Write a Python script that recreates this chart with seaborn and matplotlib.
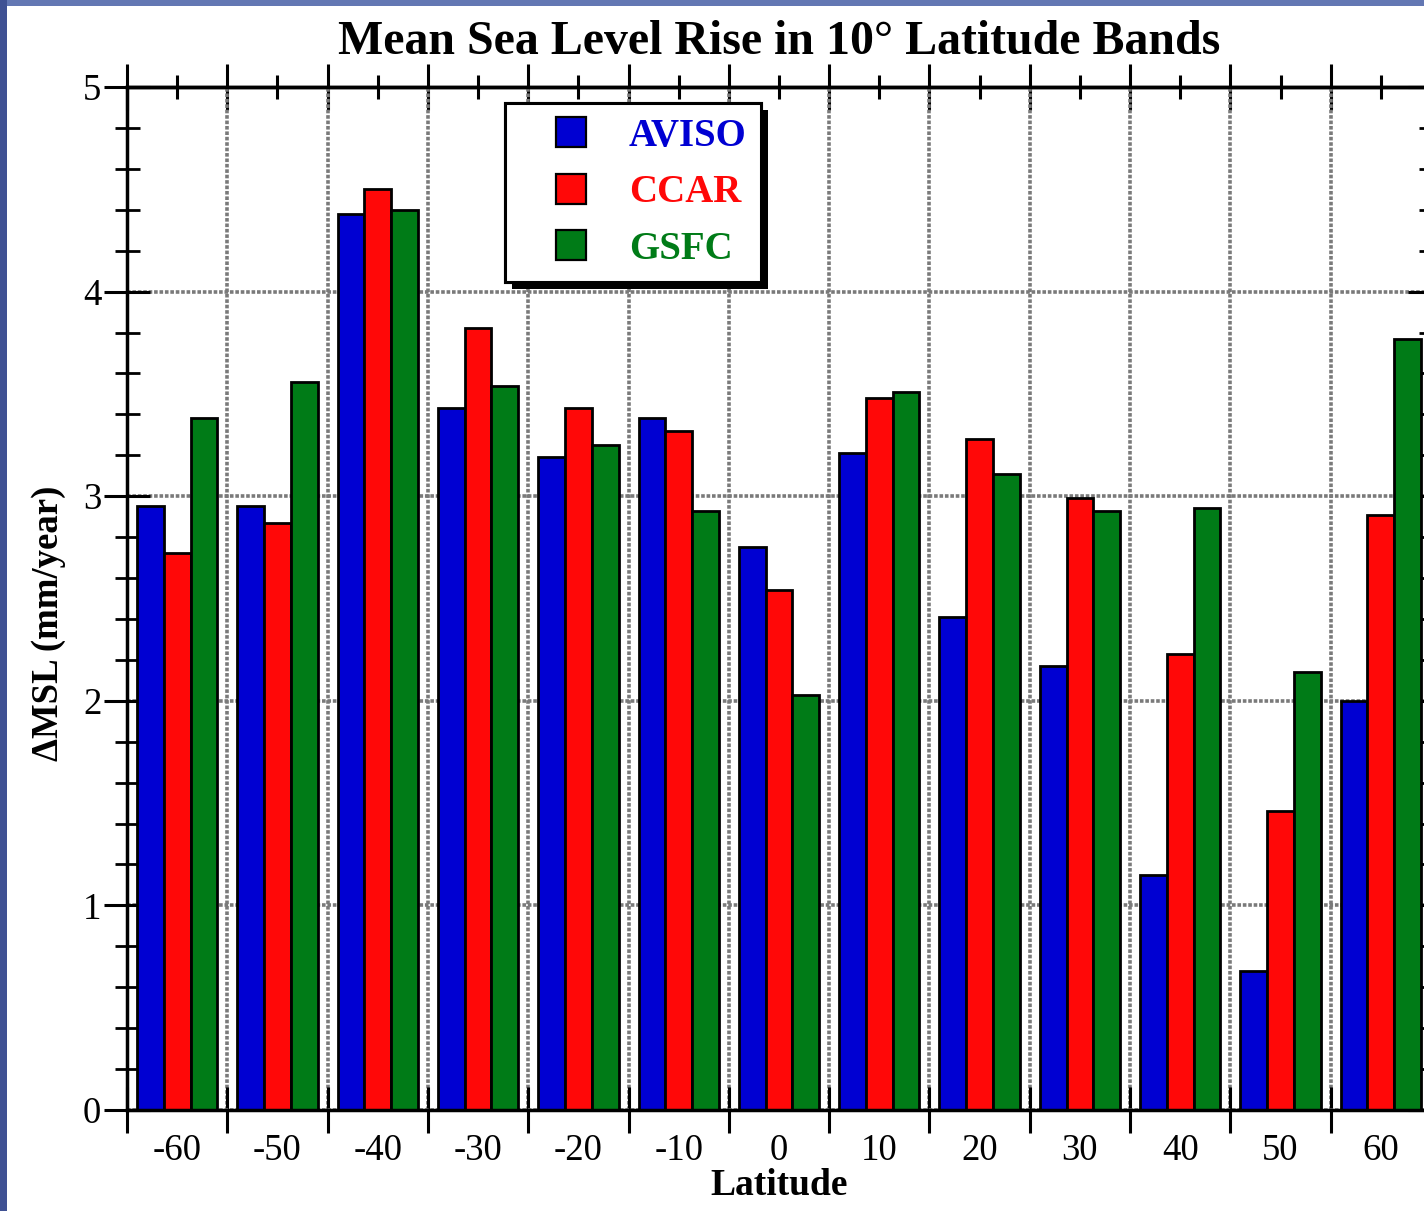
import numpy as np
import pandas as pd
import matplotlib
matplotlib.use("Agg")
import matplotlib.pyplot as plt
import matplotlib.patheffects as pe
from matplotlib.lines import Line2D
from matplotlib.patches import Rectangle
import seaborn as sns

# Latitude band centres (degrees) and mean sea level trend per product (mm/year)
latitudes = [-60, -50, -40, -30, -20, -10, 0, 10, 20, 30, 40, 50, 60]
aviso = [2.95, 2.95, 4.38, 3.43, 3.19, 3.38, 2.75, 3.21, 2.41, 2.17, 1.15, 0.68, 2.00]
ccar = [2.72, 2.87, 4.50, 3.82, 3.43, 3.32, 2.54, 3.48, 3.28, 2.99, 2.23, 1.46, 2.91]
gsfc = [3.38, 3.56, 4.40, 3.54, 3.25, 2.93, 2.03, 3.51, 3.11, 2.93, 2.94, 2.14, 3.77]
sources = ["AVISO", "CCAR", "GSFC"]
colors = {"AVISO": "#0000d2", "CCAR": "#ff0808", "GSFC": "#007b17"}

df = pd.DataFrame({
    "lat": latitudes * 3,
    "msl": aviso + ccar + gsfc,
    "src": [s for s in sources for _ in latitudes],
})

sns.set_theme(style="white")
plt.rcParams["font.family"] = ["Liberation Serif", "DejaVu Serif"]
plt.rcParams.update({"text.color": "black", "axes.labelcolor": "black",
                     "xtick.color": "black", "ytick.color": "black"})

W, H = 1424, 1211
fig = plt.figure(figsize=(W / 100, H / 100), dpi=100)
fig.patch.set_facecolor("white")
# blue slide frame along the top and left edges
fig.add_artist(Rectangle((0, (H - 6) / H), 1, 6 / H, transform=fig.transFigure,
                         facecolor="#6377b3", edgecolor="none", zorder=-5))
fig.add_artist(Rectangle((0, 0), 7 / W, 1, transform=fig.transFigure,
                         facecolor="#3f5193", edgecolor="none", zorder=-5))

ax = fig.add_axes([127 / W, 101 / H, 1304 / W, 1023 / H])
ax.set_facecolor("white")

sns.barplot(data=df, x="lat", y="msl", hue="src", native_scale=True,
            palette=colors, hue_order=sources, saturation=1, width=0.8,
            edgecolor="black", linewidth=2.0, legend=False, ax=ax, zorder=2)

ax.set_xlim(-65, 65)
ax.set_ylim(0, 5)

# ticks: band edges as major (gridlines), band centres labelled
edges = np.arange(-65, 66, 10)
ax.set_xticks(edges)
ax.set_xticklabels([""] * len(edges))
ax.set_xticks(latitudes, [str(v) for v in latitudes], minor=True)
ax.set_yticks(np.arange(0, 6, 1))
ax.set_yticks(np.arange(0, 5.01, 0.2), minor=True)

ax.tick_params(axis="x", which="major", direction="inout", length=33, width=2.2,
               bottom=True, top=False, color="black")
ax.tick_params(axis="x", which="minor", direction="in", length=8, width=2.2,
               bottom=True, top=False, labelsize=26.5, pad=17, labelcolor="black")
ax.tick_params(axis="y", which="major", direction="inout", length=33, width=2.2,
               left=True, right=True, labelsize=26.5, pad=2, labelcolor="black")
ax.tick_params(axis="y", which="minor", direction="inout", length=18, width=2.0,
               left=True, right=True)

top = ax.secondary_xaxis("top")
top.set_xticks(edges)
top.set_xticklabels([""] * len(edges))
top.set_xticks(latitudes, [""] * len(latitudes), minor=True)
top.tick_params(which="major", direction="inout", length=33, width=2.2, color="black")
top.tick_params(which="minor", direction="inout", length=17, width=2.2, color="black")
top.spines["top"].set_linewidth(2.5)
top.spines["top"].set_color("black")

for s in ax.spines.values():
    s.set_color("black")
    s.set_linewidth(2.5)
    s.set_zorder(5)

ax.set_axisbelow(True)
ax.grid(True, which="major", color="#7a7a7a", linestyle=(0, (1, 0.5)), linewidth=2.6)

ax.set_title("Mean Sea Level Rise in 10° Latitude Bands", fontsize=34.5,
             fontweight="bold", color="black", pad=24)
ax.set_xlabel("Latitude", fontsize=27, fontweight="bold", labelpad=0)
ax.set_ylabel("ΔMSL (mm/year)", fontsize=26.5, fontweight="bold")
ax.yaxis.set_label_coords(-0.047, 0.476)

handles = [Line2D([], [], linestyle="none", marker="s", markersize=21.5,
                  markerfacecolor=colors[s], markeredgecolor="black",
                  markeredgewidth=1.6) for s in sources]
leg = ax.legend(handles, sources, loc="upper left", bbox_to_anchor=(378 / 1304, 1 - 16 / 1023),
                prop={"weight": "bold", "size": 28},
                labelcolor=[colors[s] for s in sources], frameon=True, fancybox=False,
                borderpad=0.38, handlelength=2.65, handletextpad=0.15, labelspacing=0.5,
                borderaxespad=0)
frame = leg.get_frame()
frame.set_edgecolor("black")
frame.set_linewidth(2.2)
frame.set_facecolor("white")
frame.set_alpha(1)
frame.set_path_effects([pe.withSimplePatchShadow(offset=(4.8, -4.8), shadow_rgbFace="black",
                                                 alpha=1.0), pe.Normal()])
leg.set_zorder(10)

fig.savefig("out.png", dpi=100, facecolor=fig.get_facecolor())
